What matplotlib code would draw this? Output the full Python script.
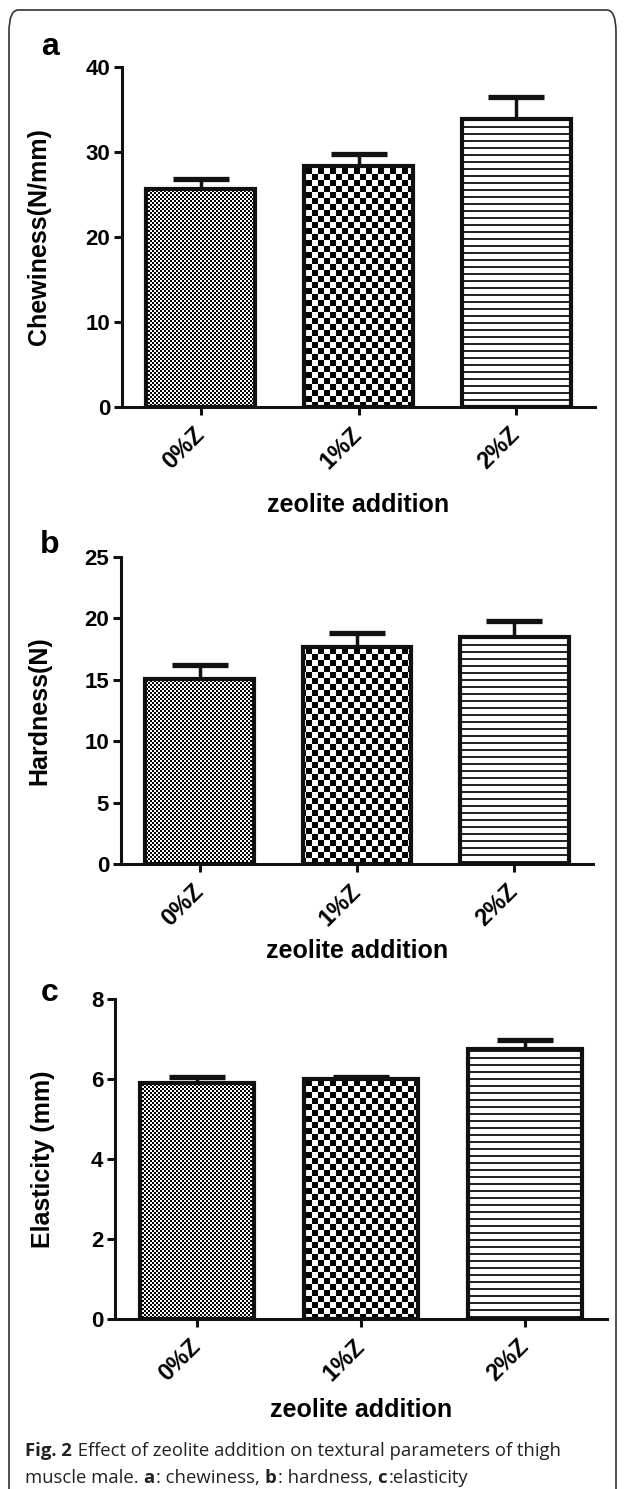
import numpy as np
import matplotlib
matplotlib.use("Agg")
import matplotlib.pyplot as plt
from matplotlib.patches import FancyBboxPatch

plt.rcParams['font.family'] = ['Liberation Sans', 'DejaVu Sans']

# data
groups = ['0%Z', '1%Z', '2%Z']
chew = [25.7, 28.4, 33.9]
chew_err = [1.1, 1.4, 2.6]
hard = [15.1, 17.7, 18.5]
hard_err = [1.1, 1.1, 1.3]
elas = [5.9, 6.0, 6.75]
elas_err = [0.15, 0.06, 0.22]

W, H = 625, 1489
fig = plt.figure(figsize=(W / 100, H / 100), dpi=100)

# frame round the whole figure
frame = FancyBboxPatch((9 / W, -0.05), 607 / W, (H - 10) / H + 0.05,
                       boxstyle="round,pad=0,rounding_size=0.015",
                       transform=fig.transFigure, fill=False,
                       edgecolor='#333333', lw=1.2)
fig.add_artist(frame)


def texture(kind, x0, y0, w, h):
    # pattern on the absolute pixel grid
    yy, xx = np.mgrid[y0:y0 + h, x0:x0 + w]
    if kind == 'fine':
        return ((xx // 2 + yy // 2) % 2).astype(float)
    if kind == 'coarse':
        return ((xx // 6 + yy // 6) % 2).astype(float)
    return ((yy % 7) < 2).astype(float) * 0.85


def panel(left, right, top, bottom, vals, errs, ymax, yticks, ylabel, letter, letter_y, ylab_x, xlab_off):
    ax = fig.add_axes([left / W, 1 - bottom / H, (right - left) / W, (bottom - top) / H])
    x = np.arange(len(groups))
    ax.set_xlim(-0.5, 2.5)
    ax.set_ylim(0, ymax)
    bars = ax.bar(x, vals, 0.69, facecolor='none', edgecolor='#111111', lw=3.0, zorder=3)
    fig.canvas.draw()
    for bar, kind in zip(bars, ['fine', 'coarse', 'lines']):
        bx0, by0 = bar.get_x(), 0
        bx1, by1 = bar.get_x() + bar.get_width(), bar.get_height()
        (p0x, p0y), (p1x, p1y) = ax.transData.transform([(bx0, by0), (bx1, by1)])
        px0, px1 = int(np.floor(p0x)), int(np.ceil(p1x))
        py0, py1 = int(np.floor(p0y)), int(np.ceil(p1y))
        img = texture(kind, px0, H - py1, px1 - px0, py1 - py0)
        inv = ax.transData.inverted()
        (d0x, d0y), (d1x, d1y) = inv.transform([(px0, py0), (px1, py1)])
        ax.imshow(img, cmap='gray_r', vmin=0, vmax=1, extent=(d0x, d1x, d0y, d1y),
                  aspect='auto', interpolation='nearest', origin='upper',
                  clip_path=bar, zorder=2)
    ax.set_xlim(-0.5, 2.5)
    ax.set_ylim(0, ymax)
    lower = np.zeros(len(vals))
    eb = ax.errorbar(x, vals, yerr=[lower, errs], fmt='none', ecolor='#111111',
                     elinewidth=2.5, capsize=20, capthick=3.8, zorder=4)
    for cl in eb[1]:
        if np.allclose(cl.get_ydata(), vals):
            cl.set_visible(False)
    for s in ['top', 'right']:
        ax.spines[s].set_visible(False)
    for s in ['left', 'bottom']:
        ax.spines[s].set_linewidth(2.2)
        ax.spines[s].set_color('#111111')
    ax.set_yticks(yticks)
    ax.set_xticks(x)
    ax.set_xticklabels(groups, rotation=45, ha='right', va='center',
                       rotation_mode='anchor', fontsize=17, fontweight='bold')
    ax.tick_params(axis='both', length=5.5, width=2.2, color='#111111')
    ax.tick_params(axis='y', labelsize=16, pad=3)
    ax.tick_params(axis='x', pad=12)
    for t in ax.get_yticklabels():
        t.set_fontweight('bold')
    ax.set_ylabel(ylabel, fontsize=18, fontweight='bold')
    ax.yaxis.set_label_coords((ylab_x - left) / (right - left), 0.5)
    ax.set_xlabel('zeolite addition', fontsize=18, fontweight='bold')
    ax.xaxis.set_label_coords(0.5, -xlab_off / (bottom - top))
    fig.text(50 / W, 1 - letter_y / H, letter,
             fontsize=23, fontweight='bold', ha='center', va='center')
    return ax


panel(122, 595, 67, 407, chew, chew_err, 40, [0, 10, 20, 30, 40],
      'Chewiness(N/mm)', 'a', 47, 51, 86)
panel(121, 593, 557, 864, hard, hard_err, 25, [0, 5, 10, 15, 20, 25],
      'Hardness(N)', 'b', 545, 51, 75)
panel(115, 607, 999, 1319, elas, elas_err, 8, [0, 2, 4, 6, 8],
      'Elasticity (mm)', 'c', 993, 55, 79)

# caption with bold pieces
renderer = fig.canvas.get_renderer()


def rich_line(pieces, x, y, size=13.3):
    for txt, wt in pieces:
        t = fig.text(x / W, 1 - y / H, txt, fontsize=size, fontweight=wt,
                     family=['Open Sans', 'DejaVu Sans'], ha='left', va='center',
                     color='#222222')
        x += t.get_window_extent(renderer).width
        if wt == 'bold':
            x += 1.5


rich_line([('Fig. 2', 'bold'),
           (' Effect of zeolite addition on textural parameters of thigh', 'normal')], 25, 1451)
rich_line([('muscle male. ', 'normal'), ('a', 'bold'), (': chewiness, ', 'normal'),
           ('b', 'bold'), (': hardness, ', 'normal'), ('c', 'bold'), (':elasticity', 'normal')],
          25, 1478)

fig.savefig('out.png', dpi=100)
